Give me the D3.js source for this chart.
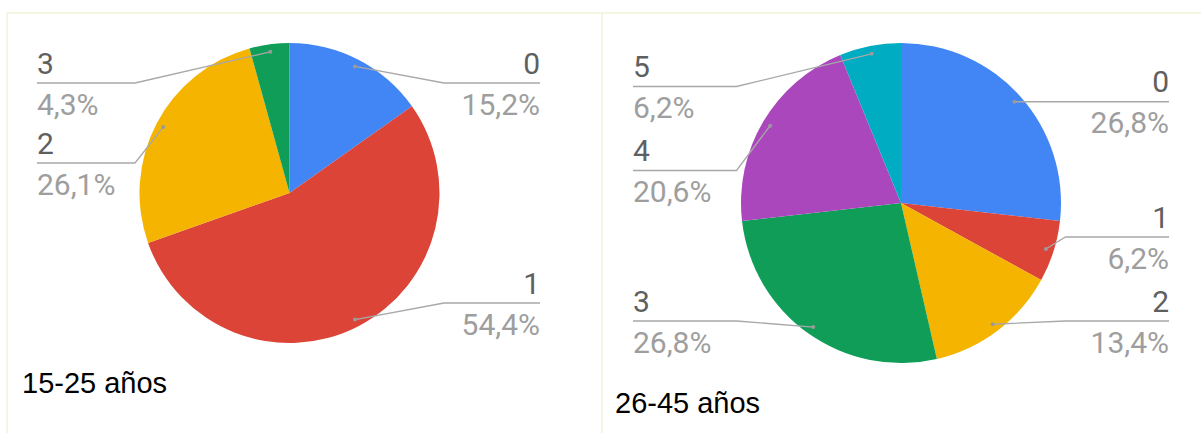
<!DOCTYPE html>
<html>
<head>
<meta charset="utf-8">
<script src="https://cdn.jsdelivr.net/npm/d3@7"></script>
<style>
  html, body { margin: 0; padding: 0; background: #ffffff; }
  svg { display: block; }
</style>
</head>
<body>
<svg id="chart" width="1201" height="433"></svg>
<script>
// ---- Data ----
const categoriesA = ["0", "1", "2", "3"];
const valuesA = [15.2, 54.4, 26.1, 4.3];
const titleA = "15-25 años";

const categoriesB = ["0", "1", "2", "3", "4", "5"];
const valuesB = [26.8, 6.2, 13.4, 26.8, 20.6, 6.2];
const titleB = "26-45 años";

const sliceColors = ["#4285f4", "#db4437", "#f4b400", "#0f9d58", "#ab47bc", "#00acc1"];

// ---- Layout ----
const W = 1201, H = 433;
const svg = d3.select("#chart");
svg.append("rect").attr("width", W).attr("height", H).attr("fill", "#ffffff");

// panel grid borders
const borderColor = "#f3f6e3";
const grid = svg.append("g").attr("stroke", borderColor).attr("stroke-width", 2).attr("fill", "none");
grid.append("line").attr("x1", 7).attr("x2", W).attr("y1", 13).attr("y2", 13);
grid.append("line").attr("x1", 7).attr("x2", 7).attr("y1", 13).attr("y2", H);
grid.append("line").attr("x1", 602).attr("x2", 602).attr("y1", 13).attr("y2", H);

const charts = [
  { cats: categoriesA, vals: valuesA, title: titleA,
    cx: 289.5, cy: 193, r: 150, leftX: 37, rightX: 540,
    minY: 83, maxY: 303, gap: 80, titleX: 22, titleY: 393 },
  { cats: categoriesB, vals: valuesB, title: titleB,
    cx: 901, cy: 203, r: 160, leftX: 633, rightX: 1169,
    minY: 86.5, maxY: 321, gap: 84, titleX: 615, titleY: 413 }
];

const fmt = v => d3.format(".1f")(v).replace(".", ",") + "%";

charts.forEach(cfg => {
  const g = svg.append("g");
  const pie = d3.pie().sort(null).value(d => d.v);
  const data = cfg.cats.map((c, i) => ({ c, v: cfg.vals[i], i }));
  const arcs = pie(data);
  const arc = d3.arc().innerRadius(0).outerRadius(cfg.r);
  const dotArc = d3.arc().innerRadius(cfg.r * 0.95).outerRadius(cfg.r * 0.95);

  const pg = g.append("g").attr("transform", `translate(${cfg.cx},${cfg.cy})`);
  pg.selectAll("path").data(arcs).join("path")
    .attr("d", arc)
    .attr("fill", d => sliceColors[d.data.i]);

  // label layout
  const labels = arcs.map(a => {
    const [x, y] = dotArc.centroid(a);
    return { a, dx: cfg.cx + x, dy: cfg.cy + y, side: x >= 0 ? "right" : "left", ly: cfg.cy + y };
  });
  ["left", "right"].forEach(side => {
    const L = labels.filter(l => l.side === side).sort((p, q) => p.dy - q.dy);
    L.forEach(l => { l.ly = Math.max(cfg.minY, Math.min(cfg.maxY, l.ly)); });
    for (let k = 1; k < L.length; k++) L[k].ly = Math.max(L[k].ly, L[k - 1].ly + cfg.gap);
    for (let k = L.length - 1; k >= 0; k--) {
      if (k === L.length - 1) L[k].ly = Math.min(L[k].ly, cfg.maxY);
      else L[k].ly = Math.min(L[k].ly, L[k + 1].ly - cfg.gap);
    }
  });

  labels.forEach(l => {
    const right = l.side === "right";
    const kinkX = right ? cfg.cx + cfg.r + 4.5 : cfg.cx - cfg.r - 4.5;
    const endX = right ? cfg.rightX : cfg.leftX;
    g.append("polyline")
      .attr("points", [[l.dx, l.dy], [kinkX, l.ly], [endX, l.ly]].map(p => p.join(",")).join(" "))
      .attr("fill", "none")
      .attr("stroke", "#a8a8a8")
      .attr("stroke-width", 1.3);
    g.append("circle").attr("cx", l.dx).attr("cy", l.dy).attr("r", 2).attr("fill", "#9a9a9a");
    g.append("text")
      .attr("x", endX).attr("y", l.ly - 9.5)
      .attr("text-anchor", right ? "end" : "start")
      .attr("font-family", "Roboto, 'Noto Sans', sans-serif")
      .attr("font-size", 30)
      .attr("fill", "#5f5f5f")
      .text(l.a.data.c);
    g.append("text")
      .attr("x", endX).attr("y", l.ly + 31.5)
      .attr("text-anchor", right ? "end" : "start")
      .attr("font-family", "Roboto, 'Noto Sans', sans-serif")
      .attr("font-size", 30)
      .attr("fill", "#9e9e9e")
      .text(fmt(l.a.data.v));
  });

  g.append("text")
    .attr("x", cfg.titleX).attr("y", cfg.titleY)
    .attr("font-family", "'Liberation Sans', Arial, sans-serif")
    .attr("font-size", 29)
    .attr("fill", "#000000")
    .text(cfg.title);
});
</script>
</body>
</html>
